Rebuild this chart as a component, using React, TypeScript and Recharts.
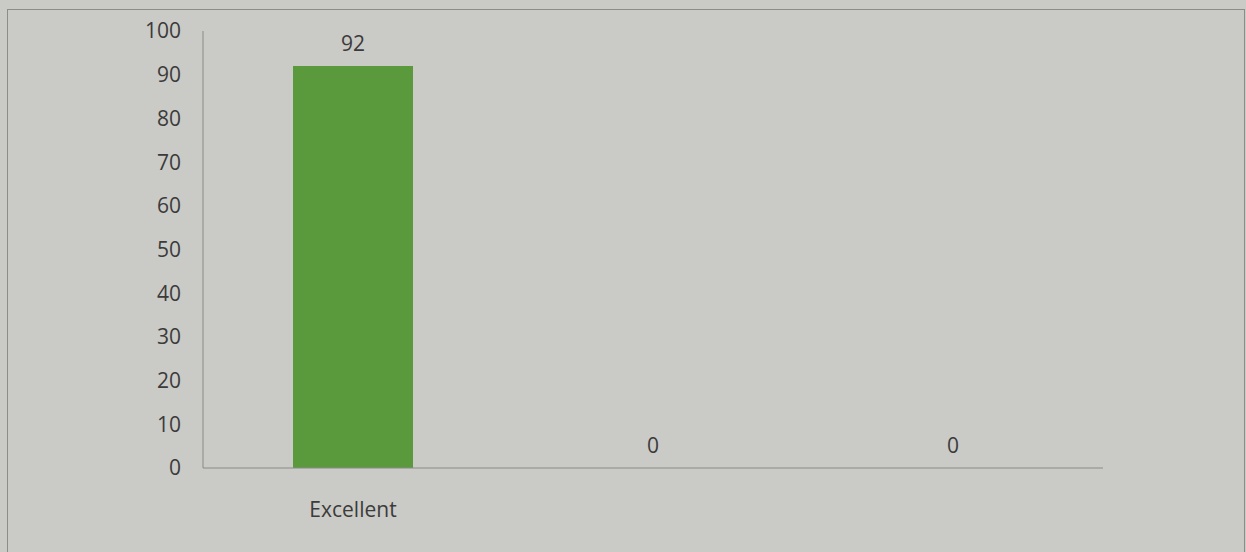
import React from 'react';
import { ComposedChart, Bar, Line, XAxis, YAxis, LabelList } from 'recharts';

const categories = ['Excellent', '', ''];
const scores = [92, 0, 0];
const yTicks = [0, 10, 20, 30, 40, 50, 60, 70, 80, 90, 100];

const data = categories.map((name, i) => ({ name, score: scores[i] }));

const textStyle = { fill: '#3b3b3b', fontSize: 21, fontFamily: '"Open Sans", "Noto Sans", sans-serif' };

const App: React.FC = () => {
  return (
    <div
      style={{
        position: 'absolute',
        left: 0,
        top: 0,
        width: 1246,
        height: 552,
        background: '#cacac6',
        overflow: 'hidden',
      }}
    >
      <div
        style={{
          position: 'absolute',
          left: 7,
          top: 9,
          width: 1236,
          height: 560,
          border: '1px solid #8c8c8a',
        }}
      />
      <div style={{ position: 'absolute', left: 0, top: 0 }}>
        <ComposedChart
          width={1246}
          height={552}
          data={data}
          margin={{ top: 31, right: 143, bottom: 0, left: 0 }}
          barCategoryGap="30%"
        >
          <YAxis
            width={203}
            domain={[0, 100]}
            ticks={yTicks}
            tickLine={false}
            tickMargin={16}
            axisLine={{ stroke: '#8a8a88' }}
            tick={textStyle}
            interval={0}
          />
          <XAxis
            dataKey="name"
            height={84}
            tickLine={false}
            tickMargin={28}
            axisLine={{ stroke: '#8a8a88' }}
            tick={textStyle}
            interval={0}
          />
          <Bar dataKey="score" fill="#5a9a3c" isAnimationActive={false} />
          {/* invisible line only carries the value labels, so the zero bars get theirs too */}
          <Line
            dataKey="score"
            stroke="none"
            dot={false}
            activeDot={false}
            isAnimationActive={false}
          >
            <LabelList dataKey="score" position="top" offset={15} style={textStyle} />
          </Line>
        </ComposedChart>
      </div>
    </div>
  );
};

export default App;
